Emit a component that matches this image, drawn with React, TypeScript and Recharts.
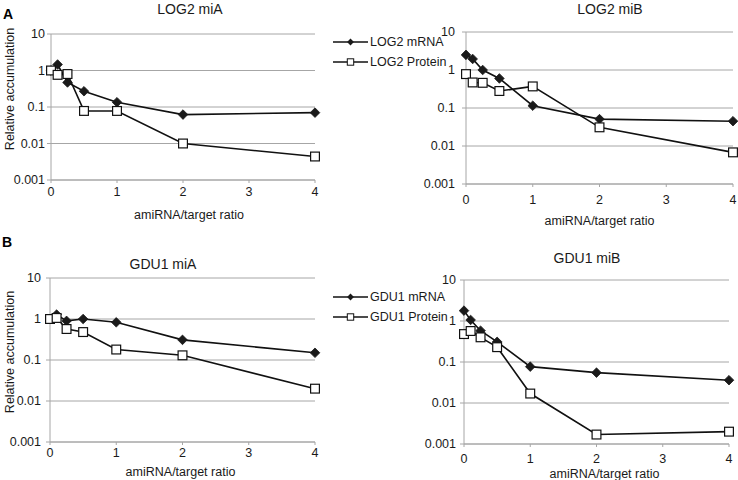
import React from 'react';
import { LineChart, Line, XAxis, YAxis, CartesianGrid, Legend } from 'recharts';

const ratios = [0, 0.1, 0.25, 0.5, 1, 2, 4];
const xTicks = [0, 1, 2, 3, 4];
const yTicks = [0.001, 0.01, 0.1, 1, 10];

const log2MiAmRNA = [1.0, 1.46, 0.47, 0.27, 0.135, 0.062, 0.07];
const log2MiAProtein = [1.0, 0.76, 0.8, 0.078, 0.078, 0.01, 0.0044];
const log2MiBmRNA = [2.5, 1.95, 1.0, 0.6, 0.115, 0.051, 0.045];
const log2MiBProtein = [0.78, 0.47, 0.46, 0.28, 0.37, 0.031, 0.0068];
const gdu1MiAmRNA = [1.0, 1.28, 0.9, 1.0, 0.83, 0.31, 0.15];
const gdu1MiAProtein = [1.0, 1.06, 0.57, 0.48, 0.18, 0.13, 0.02];
const gdu1MiBmRNA = [1.79, 1.06, 0.58, 0.31, 0.077, 0.055, 0.036];
const gdu1MiBProtein = [0.48, 0.57, 0.4, 0.23, 0.017, 0.0017, 0.002];

const seriesOrder = ['mrna', 'protein'];

const FONT = '"Liberation Sans", Arial, sans-serif';
const GRID = '#a6a6a6';
const TEXT = '#1a1a1a';

const Diamond = (props: any) => {
  const { cx, cy, r = 4.8 } = props;
  if (cx == null || cy == null) return null;
  return (
    <polygon
      points={`${cx},${cy - r} ${cx + r},${cy} ${cx},${cy + r} ${cx - r},${cy}`}
      fill="#1a1a1a"
      stroke="#1a1a1a"
      strokeWidth={0.8}
    />
  );
};

const Square = (props: any) => {
  const { cx, cy, s = 8.8 } = props;
  if (cx == null || cy == null) return null;
  return <rect x={cx - s / 2} y={cy - s / 2} width={s} height={s} fill="#fff" stroke="#111" strokeWidth={1.2} />;
};

const legendContent = (props: any) => {
  const payload = [...(props.payload || [])].sort(
    (a: any, b: any) => seriesOrder.indexOf(a.dataKey) - seriesOrder.indexOf(b.dataKey)
  );
  return (
    <div style={{ fontFamily: FONT, fontSize: 12.5, color: TEXT }}>
      {payload.map((e: any, i: number) => (
        <div key={i} style={{ display: 'flex', alignItems: 'center', height: 20 }}>
          <svg width={35} height={12} style={{ display: 'block' }}>
            <line x1={0} y1={6} x2={35} y2={6} stroke="#111" strokeWidth={1.5} />
            {e.dataKey === 'mrna' ? (
              <polygon points="17.5,2.6 20.9,6 17.5,9.4 14.1,6" fill="#1a1a1a" />
            ) : (
              <rect x={14.3} y={2.8} width={6.4} height={6.4} fill="#fff" stroke="#111" strokeWidth={1} />
            )}
          </svg>
          <span style={{ marginLeft: 2, whiteSpace: 'nowrap' }}>{e.value}</span>
        </div>
      ))}
    </div>
  );
};

type PanelProps = {
  left: number;
  top: number;
  width: number;
  height: number;
  margin: { top: number; right: number; bottom: number; left: number };
  yAxisWidth: number;
  xAxisHeight: number;
  yTickMargin: number;
  xTickMargin: number;
  xTitleOffset: number;
  xTitleDx: number;
  title: string;
  titleX: number;
  titleY: number;
  mrna: number[];
  protein: number[];
  mrnaName: string;
  proteinName: string;
  yLabel?: boolean;
  yLabelDy?: number;
  legendPos?: { left: number; top: number };
};

const Panel = (p: PanelProps) => {
  const data = ratios.map((r, i) => ({ x: r, mrna: p.mrna[i], protein: p.protein[i] }));
  return (
    <>
      <div
        style={{
          position: 'absolute',
          left: p.titleX,
          top: p.titleY,
          transform: 'translate(-50%, -50%)',
          fontFamily: FONT,
          fontSize: 14,
          color: TEXT,
          whiteSpace: 'nowrap',
        }}
      >
        {p.title}
      </div>
      <div style={{ position: 'absolute', left: p.left, top: p.top }}>
        <LineChart width={p.width} height={p.height} data={data} margin={p.margin}>
          <CartesianGrid horizontal={true} vertical={false} stroke={GRID} strokeWidth={1} />
          <XAxis
            dataKey="x"
            type="number"
            domain={[0, 4]}
            ticks={xTicks}
            height={p.xAxisHeight}
            stroke={GRID}
            tickSize={3}
            tickMargin={p.xTickMargin}
            tick={{ fill: TEXT, fontSize: 12.5, fontFamily: FONT }}
            label={{
              value: 'amiRNA/target ratio',
              position: 'insideBottom',
              offset: p.xTitleOffset,
              dx: p.xTitleDx,
              fill: TEXT,
              fontSize: 12.5,
              fontFamily: FONT,
            }}
          />
          <YAxis
            type="number"
            scale="log"
            domain={[0.001, 10]}
            ticks={yTicks}
            allowDataOverflow
            width={p.yAxisWidth}
            stroke={GRID}
            tickSize={4}
            tickMargin={p.yTickMargin}
            tickFormatter={(v: number) => String(v)}
            tick={{ fill: TEXT, fontSize: 12.5, fontFamily: FONT }}
            label={
              p.yLabel
                ? {
                    content: (lp: any) => {
                      const vb = lp.viewBox || { x: 0, y: 0, width: 0, height: 0 };
                      const cx = 10;
                      const cy = vb.y + vb.height / 2 + (p.yLabelDy || 0);
                      return (
                        <text
                          x={cx}
                          y={cy}
                          transform={`rotate(-90, ${cx}, ${cy})`}
                          textAnchor="middle"
                          dominantBaseline="central"
                          fill={TEXT}
                          fontSize={12.5}
                          fontFamily={FONT}
                        >
                          Relative accumulation
                        </text>
                      );
                    },
                  }
                : undefined
            }
          />
          {p.legendPos && (
            <Legend
              layout="vertical"
              align="center"
              verticalAlign="middle"
              content={legendContent}
              wrapperStyle={{ left: p.legendPos.left, top: p.legendPos.top, width: 140, height: 40 }}
            />
          )}
          <Line
            dataKey="mrna"
            name={p.mrnaName}
            stroke="#111"
            strokeWidth={1.6}
            isAnimationActive={false}
            dot={(d: any) => <Diamond key={`d${d.index}`} cx={d.cx} cy={d.cy} />}
            activeDot={false}
          />
          <Line
            dataKey="protein"
            name={p.proteinName}
            stroke="#111"
            strokeWidth={1.6}
            isAnimationActive={false}
            dot={(d: any) => <Square key={`s${d.index}`} cx={d.cx} cy={d.cy} />}
            activeDot={false}
          />
        </LineChart>
      </div>
    </>
  );
};

export default function App() {
  return (
    <div style={{ position: 'absolute', left: 0, top: 0, width: 738, height: 480, background: '#fff', overflow: 'hidden' }}>
      <div style={{ position: 'absolute', left: 3, top: 6, fontFamily: FONT, fontWeight: 'bold', fontSize: 14, color: '#000' }}>A</div>
      <div style={{ position: 'absolute', left: 2, top: 234, fontFamily: FONT, fontWeight: 'bold', fontSize: 14, color: '#000' }}>B</div>
      <Panel
        left={0}
        top={0}
        width={450}
        height={225}
        margin={{ top: 34, right: 135, bottom: 0, left: 0 }}
        yAxisWidth={51}
        xAxisHeight={45}
        yTickMargin={2}
        xTickMargin={4}
        xTitleOffset={6}
        xTitleDx={6}
        title="LOG2 miA"
        titleX={190}
        titleY={9}
        mrna={log2MiAmRNA}
        protein={log2MiAProtein}
        mrnaName="LOG2 mRNA"
        proteinName="LOG2 Protein"
        yLabel
        yLabelDy={-18}
        legendPos={{ left: 333, top: 32 }}
      />
      <Panel
        left={400}
        top={0}
        width={338}
        height={228}
        margin={{ top: 32, right: 5, bottom: 0, left: 0 }}
        yAxisWidth={66}
        xAxisHeight={44}
        yTickMargin={7}
        xTickMargin={8}
        xTitleOffset={3}
        xTitleDx={0}
        title="LOG2 miB"
        titleX={610}
        titleY={9}
        mrna={log2MiBmRNA}
        protein={log2MiBProtein}
        mrnaName="LOG2 mRNA"
        proteinName="LOG2 Protein"
      />
      <Panel
        left={0}
        top={230}
        width={450}
        height={250}
        margin={{ top: 48, right: 135, bottom: 0, left: 0 }}
        yAxisWidth={50}
        xAxisHeight={38}
        yTickMargin={5}
        xTickMargin={3}
        xTitleOffset={4}
        xTitleDx={-2}
        title="GDU1 miA"
        titleX={163}
        titleY={264}
        mrna={gdu1MiAmRNA}
        protein={gdu1MiAProtein}
        mrnaName="GDU1 mRNA"
        proteinName="GDU1 Protein"
        yLabel
        yLabelDy={-8}
        legendPos={{ left: 333, top: 57 }}
      />
      <Panel
        left={400}
        top={230}
        width={338}
        height={250}
        margin={{ top: 50, right: 9, bottom: 0, left: 0 }}
        yAxisWidth={64}
        xAxisHeight={36}
        yTickMargin={4}
        xTickMargin={7}
        xTitleOffset={2}
        xTitleDx={8}
        title="GDU1 miB"
        titleX={587}
        titleY={258}
        mrna={gdu1MiBmRNA}
        protein={gdu1MiBProtein}
        mrnaName="GDU1 mRNA"
        proteinName="GDU1 Protein"
      />
    </div>
  );
}
